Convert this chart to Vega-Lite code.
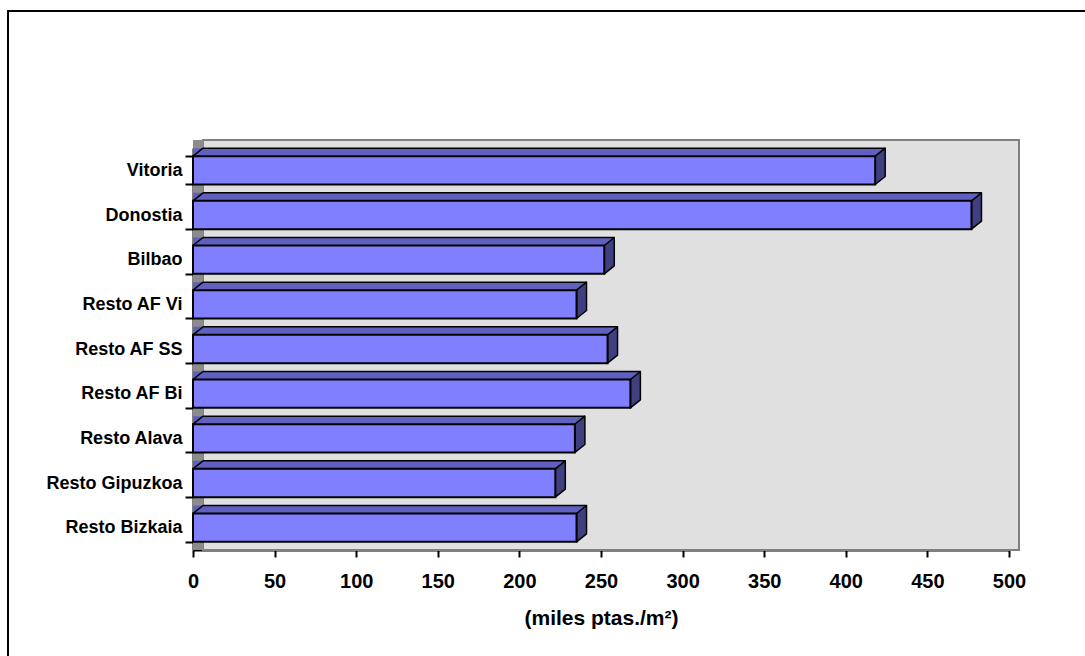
{
  "$schema": "https://vega.github.io/schema/vega-lite/v6.json",
  "width": 816,
  "height": 402,
  "autosize": "none",
  "padding": {"left": 193, "top": 148, "right": 76, "bottom": 106},
  "background": "white",
  "config": {
    "view": {"stroke": null},
    "font": "Liberation Sans",
    "axis": {
      "grid": false,
      "zindex": 1,
      "tickWidth": 2,
      "tickColor": "black",
      "domainColor": "black",
      "domainWidth": 2,
      "labelFontWeight": "bold",
      "labelColor": "black",
      "titleFontWeight": "bold",
      "titleColor": "black"
    },
    "axisX": {
      "tickSize": 7,
      "labelFontSize": 20,
      "labelPadding": 14,
      "labelFlush": false,
      "labelOverlap": false,
      "titleFontSize": 21,
      "titlePadding": 16
    },
    "axisY": {
      "tickBand": "extent",
      "tickSize": 8,
      "labelFontSize": 18,
      "labelPadding": 3
    }
  },
  "data": {
    "values": [
      {"zona": "Vitoria", "precio": 418},
      {"zona": "Donostia", "precio": 477},
      {"zona": "Bilbao", "precio": 252},
      {"zona": "Resto AF Vi", "precio": 235},
      {"zona": "Resto AF SS", "precio": 254},
      {"zona": "Resto AF Bi", "precio": 268},
      {"zona": "Resto Alava", "precio": 234},
      {"zona": "Resto Gipuzkoa", "precio": 222},
      {"zona": "Resto Bizkaia", "precio": 235}
    ]
  },
  "resolve": {"scale": {"y": "independent"}, "axis": {"y": "independent"}},
  "layer": [
    {
      "data": {"values": [{}]},
      "encoding": {
        "x": {"datum": 0, "type": "quantitative", "title": "(miles ptas./m²)"},
        "x2": {"datum": 500},
        "y": {"datum": 0, "type": "quantitative", "scale": {"domain": [0, 1], "nice": false}, "axis": null},
        "y2": {"datum": 1}
      },
      "layer": [
        {
          "mark": {"type": "rect", "fillOpacity": 0, "stroke": "black", "strokeWidth": 2,
                   "xOffset": -185, "x2Offset": 140, "yOffset": 160, "y2Offset": -137}
        },
        {
          "mark": {"type": "rect", "fill": "#E0E0E0", "stroke": "#808080", "strokeWidth": 2,
                   "xOffset": 10, "x2Offset": 10, "yOffset": 0, "y2Offset": -8}
        },
        {
          "mark": {"type": "rect", "fill": "#8C8C8C", "x2Offset": 10, "yOffset": 0, "y2Offset": -8},
          "encoding": {"x2": {"datum": 0}}
        }
      ]
    },
    {
      "layer": [
        {
          "mark": {"type": "bar", "fill": "#6060C0", "x2Offset": 10, "yOffset": -8, "y2Offset": -8},
          "encoding": {
            "x": {"field": "precio", "type": "quantitative", "title": "(miles ptas./m²)"},
            "y": {"field": "zona", "type": "nominal", "sort": null, "title": null}
          }
        },
        {
          "mark": {"type": "point", "shape": "M0,-14.2L10,-22.2L11,-22.2L11,-14.2Z", "size": 4,
                   "filled": true, "fill": "#6060C0", "opacity": 1, "strokeWidth": 0},
          "encoding": {
            "x": {"datum": 0, "type": "quantitative", "title": "(miles ptas./m²)"},
            "y": {"field": "zona", "type": "nominal", "sort": null, "title": null}
          }
        },
        {
          "mark": {"type": "point", "shape": "M-1,-14.2L0,-14.2L10,-22.2L-1,-22.2Z", "size": 4,
                   "filled": true, "fill": "#6060C0", "opacity": 1, "strokeWidth": 0},
          "encoding": {
            "x": {"field": "precio", "type": "quantitative", "title": "(miles ptas./m²)"},
            "y": {"field": "zona", "type": "nominal", "sort": null, "title": null}
          }
        },
        {
          "mark": {"type": "point", "shape": "M0,-14.2L10,-22.2L10,6.2L0,14.2Z", "size": 4,
                   "filled": true, "fill": "#404080", "stroke": "black", "strokeWidth": 1.5,
                   "strokeJoin": "round", "opacity": 1},
          "encoding": {
            "x": {"field": "precio", "type": "quantitative", "title": "(miles ptas./m²)"},
            "y": {"field": "zona", "type": "nominal", "sort": null, "title": null}
          }
        },
        {
          "mark": {"type": "point", "shape": "M0,-14.2L10,-22.2", "size": 4,
                   "filled": false, "stroke": "black", "strokeWidth": 1.5, "opacity": 1},
          "encoding": {
            "x": {"datum": 0, "type": "quantitative", "title": "(miles ptas./m²)"},
            "y": {"field": "zona", "type": "nominal", "sort": null, "title": null}
          }
        },
        {
          "mark": {"type": "rule", "stroke": "black", "strokeWidth": 1.5,
                   "xOffset": 10, "x2Offset": 10, "yOffset": -22.2},
          "encoding": {
            "x": {"field": "precio", "type": "quantitative", "title": "(miles ptas./m²)"},
            "x2": {"datum": 0},
            "y": {"field": "zona", "type": "nominal", "sort": null, "title": null}
          }
        },
        {
          "mark": {"type": "bar", "fill": "#8080FF", "stroke": "black", "strokeWidth": 2},
          "encoding": {
            "x": {
              "field": "precio",
              "type": "quantitative",
              "title": "(miles ptas./m²)",
              "scale": {"domain": [0, 500], "nice": false, "zero": true},
              "axis": {"values": [0, 50, 100, 150, 200, 250, 300, 350, 400, 450, 500]}
            },
            "y": {
              "field": "zona",
              "type": "nominal",
              "sort": null,
              "title": null,
              "scale": {"paddingInner": 0.366, "paddingOuter": 0.183}
            }
          }
        }
      ]
    }
  ]
}
